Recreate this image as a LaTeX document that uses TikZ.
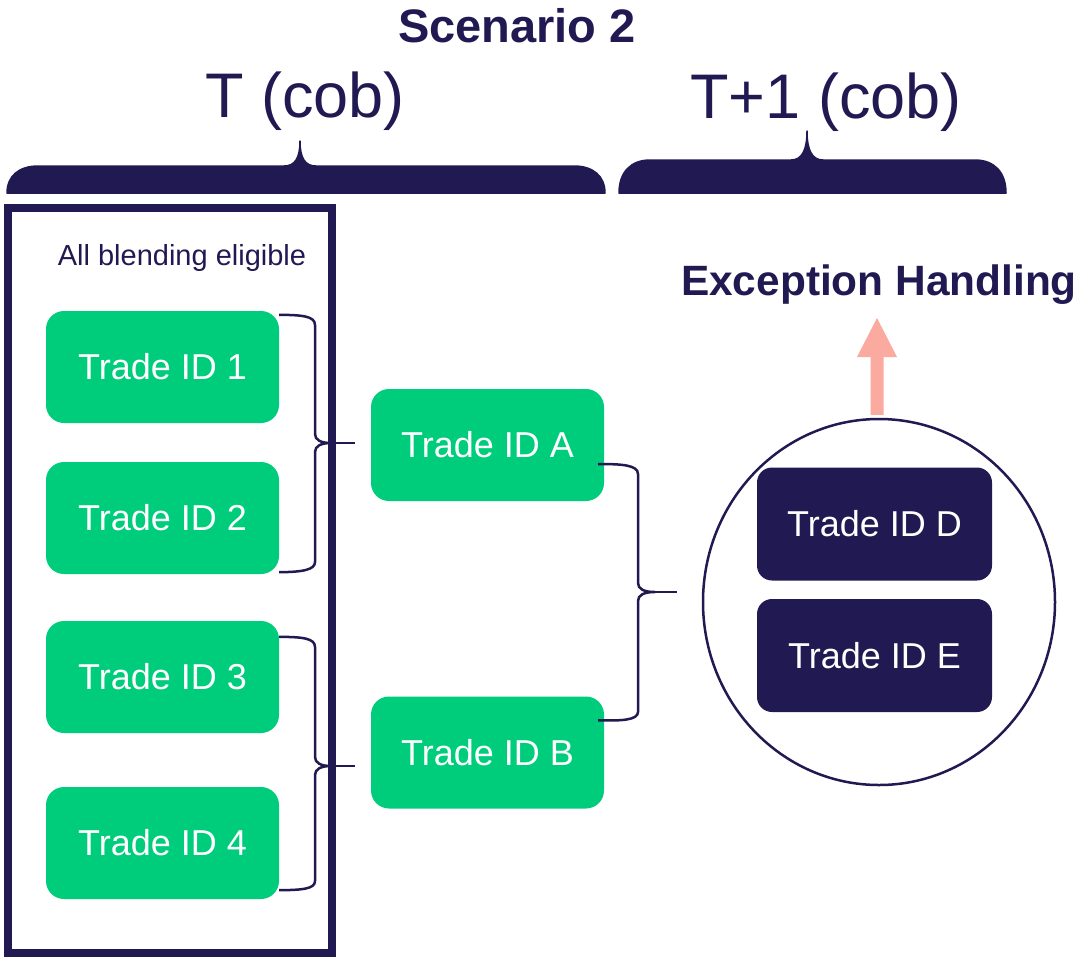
\documentclass[tikz,border=0pt]{standalone}
\usepackage{fontspec}
\setmainfont{Liberation Sans}
\usetikzlibrary{shapes.geometric,arrows.meta}
\definecolor{navy}{HTML}{211951}
\definecolor{tgreen}{HTML}{00CD7C}
\definecolor{tpink}{HTML}{FBAA9F}
\begin{document}
\begin{tikzpicture}[x=1pt,y=-1pt,
  gbox/.style={fill=tgreen, rounded corners=18pt, minimum width=233pt, minimum height=112pt, inner sep=0pt, text=white, font=\fontsize{36}{40}\selectfont},
  dbox/.style={fill=navy, rounded corners=15pt, minimum width=235pt, minimum height=113pt, inner sep=0pt, text=white, font=\fontsize{36}{40}\selectfont},
  brk/.style={draw=navy, line width=2.5pt},
  bigbrace/.style={fill=navy, draw=navy, line width=1.5pt, line join=round},
  lbl/.style={text=navy, anchor=base, inner sep=0pt}]
\useasboundingbox (0,0) rectangle (1081,959);

% headings
\node[lbl, font=\bfseries\fontsize{47}{50}\selectfont] (scen) at (517,42) {Scenario 2};
\node[lbl, font=\fontsize{63}{70}\selectfont] (tcob) at (305,117) {T (cob)};
\node[lbl, font=\fontsize{63}{70}\selectfont] (t1cob) at (826,118) {T+1 (cob)};

% big braces
\path[bigbrace] (7,193) .. controls (7,176) and (19,166) .. (38,166) -- (284,166)
  .. controls (295,166) and (300,158) .. (300,141)
  .. controls (300,158) and (305,166) .. (316,166) -- (574,166)
  .. controls (593,166) and (605,176) .. (605,193) -- cycle;
\path[bigbrace] (619,193) .. controls (619,172) and (631,160) .. (650,160) -- (791,160)
  .. controls (802,160) and (807,150) .. (807,131)
  .. controls (807,150) and (812,160) .. (823,160) -- (975,160)
  .. controls (994,160) and (1006,172) .. (1006,193) -- cycle;

% frame
\node[draw=navy, line width=8pt, minimum width=324pt, minimum height=745pt, inner sep=0pt] (frame) at (170,580.5) {};
\node[lbl, font=\fontsize{29}{32}\selectfont] (allbl) at (182,265) {All blending eligible};

% green boxes
\node[gbox] (t1) at (162.5,367) {Trade ID 1};
\node[gbox] (t2) at (162.5,518) {Trade ID 2};
\node[gbox] (t3) at (162.5,677) {Trade ID 3};
\node[gbox] (t4) at (162.5,843) {Trade ID 4};
\node[gbox] (ta) at (487.5,445) {Trade ID A};
\node[gbox] (tb) at (487.5,752.5) {Trade ID B};

% circle with dark boxes
\node[draw=navy, line width=2.5pt, ellipse, minimum width=352pt, minimum height=366pt, inner sep=0pt] (circ) at (879,602) {};
\node[dbox] (td) at (874.5,524) {Trade ID D};
\node[dbox] (te) at (874.5,655.5) {Trade ID E};

% exception arrow
\fill[tpink] ([xshift=-8.5pt,yshift=3pt]circ.north) -- (870.5,357) -- (857,357) -- (877,318) coordinate (arrtip)
  -- (897,357) -- (883.5,357) -- ([xshift=4.5pt,yshift=3pt]circ.north) -- cycle;
\node[lbl, font=\bfseries\fontsize{42.4}{46}\selectfont] (exc) at (879,295) {Exception Handling};

% small brackets
\draw[brk] ([yshift=-4pt]t1.north east) .. controls (302,315) and (315,316) .. (315,325) -- (315,434)
  .. controls (315,440) and (321,443) .. (331,443)
  .. controls (321,443) and (315,446) .. (315,452) -- (315,562)
  .. controls (315,570) and (302,572) .. ([yshift=2pt]t2.south east);
\draw[brk] (329,443) -- (355,443) coordinate (tipA);

\draw[brk] ([yshift=-16pt]t3.north east) .. controls (302,637) and (315,638) .. (315,647) -- (315,757)
  .. controls (315,763) and (321,766) .. (331,766)
  .. controls (321,766) and (315,769) .. (315,775) -- (315,881)
  .. controls (315,889) and (302,890) .. ([yshift=9pt]t4.south east);
\draw[brk] (329,766) -- (355,766) coordinate (tipB);

\draw[brk] ([xshift=-6pt,yshift=-19pt]ta.east) .. controls (622,464) and (638,465) .. (638,474) -- (638,583)
  .. controls (638,589) and (644,592) .. (655,592)
  .. controls (644,592) and (638,595) .. (638,601) -- (638,712)
  .. controls (638,720) and (622,721) .. ([xshift=-6pt,yshift=-24pt]tb.north east);
\draw[brk] (653,592) -- (677,592) coordinate (tipC);
\end{tikzpicture}
\end{document}
